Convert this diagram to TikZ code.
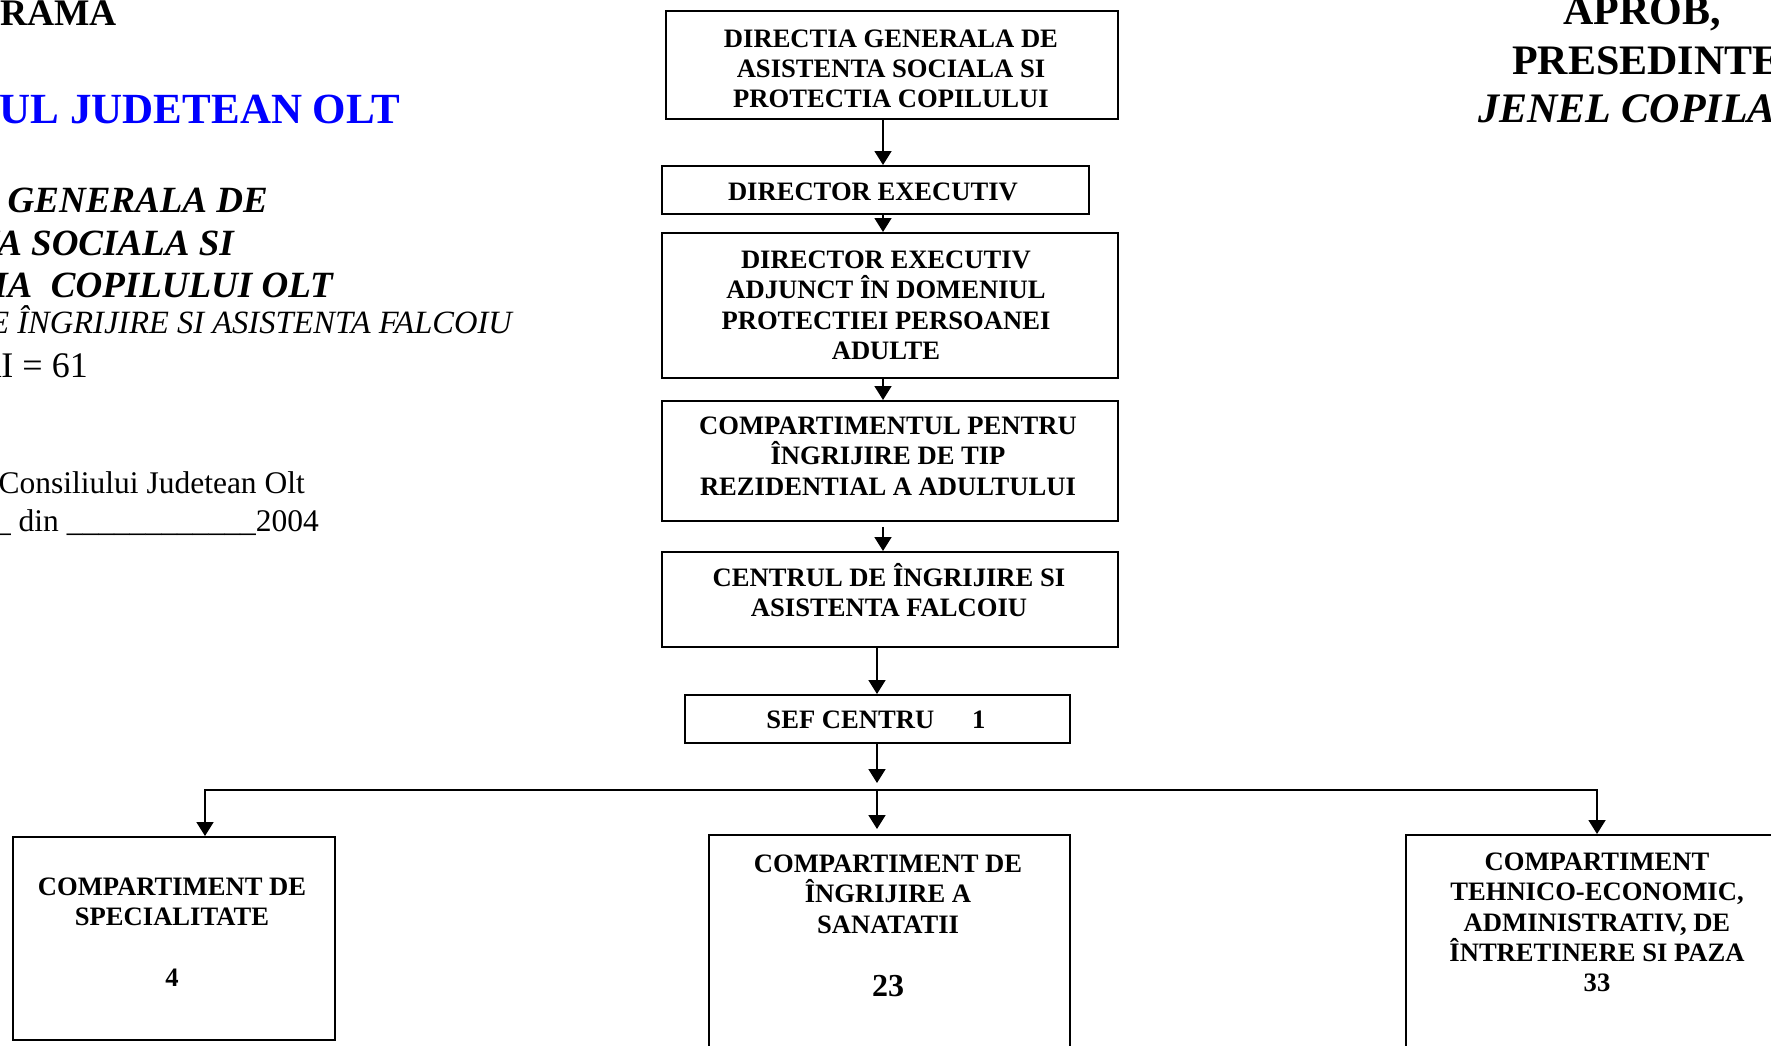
\documentclass[tikz,border=0pt]{standalone}
\usepackage{fontspec}
\setmainfont{Liberation Serif}
\usetikzlibrary{arrows.meta}
\definecolor{titleblue}{RGB}{0,0,255}
\newcommand{\mystrut}{\rule{0pt}{25pt}}
\begin{document}
\begin{tikzpicture}[x=1pt,y=-1pt,
  boxshape/.style={draw, line width=1.8pt, rectangle, inner sep=0pt, anchor=north west},
  boxtext/.style={inner sep=0pt, anchor=north, align=center, font=\bfseries\fontsize{26.6pt}{30.4pt}\selectfont},
  conn/.style={line width=1.8pt, -{Triangle[length=14pt,width=17pt]}},
  lefttxt/.style={inner sep=0pt, anchor=base east},
  righttxt/.style={inner sep=0pt, anchor=base west, font=\bfseries\fontsize{42pt}{48pt}\selectfont},
]
\useasboundingbox (0,0) rectangle (1771,1046);
\clip (0,0) rectangle (1771,1046);

% ---------- left header ----------
\node[lefttxt, font=\bfseries\fontsize{37.5pt}{40pt}\selectfont] (h1) at (117,26) {ORGANIGRAMA};
\node[lefttxt, text=titleblue, font=\bfseries\fontsize{43pt}{48pt}\selectfont] (h2) at (400,124) {CONSILIUL JUDETEAN OLT};
\node[lefttxt, font=\bfseries\itshape\fontsize{37pt}{42pt}\selectfont] (h3) at (268,212) {DIRECTIA GENERALA DE};
\node[lefttxt, font=\bfseries\itshape\fontsize{37pt}{42pt}\selectfont] (h4) at (234,255) {ASISTENTA SOCIALA SI};
\node[lefttxt, font=\bfseries\itshape\fontsize{37pt}{42pt}\selectfont] (h5) at (333,297) {PROTECTIA\ \ COPILULUI OLT};
\node[lefttxt, font=\itshape\fontsize{32.5pt}{36pt}\selectfont] (h6) at (512,333) {CENTRUL DE ÎNGRIJIRE SI ASISTENTA FALCOIU};
\node[lefttxt, font=\fontsize{36pt}{40pt}\selectfont] (h7) at (88,377) {TOTAL POSTURI = 61};
\node[lefttxt, font=\fontsize{31.5pt}{36pt}\selectfont] (h8) at (305,493) {Anexa la Hotararea Consiliului Judetean Olt};
\node[lefttxt, font=\fontsize{31.5pt}{36pt}\selectfont] (h9) at (319,531) {nr. \_\_\_\_ din \_\_\_\_\_\_\_\_\_\_\_\_2004};

% ---------- right header ----------
\node[inner sep=0pt, anchor=base, font=\bfseries\fontsize{42pt}{48pt}\selectfont] (r1) at (1642,25) {APROB,};
\node[righttxt] (r2) at (1512,75) {PRESEDINTE};
\node[righttxt, font=\bfseries\itshape\fontsize{42pt}{48pt}\selectfont] (r3) at (1478,123) {JENEL COPILAU};

% ---------- boxes ----------
\node[boxshape, minimum width=452pt, minimum height=108pt] (b1) at (665,10) {};
\node[boxshape, minimum width=427pt, minimum height=48pt] (b2) at (661,165) {};
\node[boxshape, minimum width=456pt, minimum height=145pt] (b3) at (661,232) {};
\node[boxshape, minimum width=456pt, minimum height=120pt] (b4) at (661,400) {};
\node[boxshape, minimum width=456pt, minimum height=95pt] (b5) at (661,551) {};
\node[boxshape, minimum width=385pt, minimum height=48pt] (b6) at (684,694) {};
\node[boxshape, minimum width=322pt, minimum height=203pt] (b7) at (12,836) {};
\node[boxshape, minimum width=361pt, minimum height=260pt] (b8) at (708,834) {};
\node[boxshape, minimum width=390pt, minimum height=260pt] (b9) at (1405,834) {};

% ---------- box texts ----------
\node[boxtext] (t1) at (891,22) {\mystrut DIRECTIA GENERALA DE\\ASISTENTA SOCIALA SI\\PROTECTIA COPILULUI};
\node[boxtext] (t2) at (873,175) {\mystrut DIRECTOR EXECUTIV};
\node[boxtext] (t3) at (886,243) {\mystrut DIRECTOR EXECUTIV\\ADJUNCT ÎN DOMENIUL\\PROTECTIEI PERSOANEI\\ADULTE};
\node[boxtext] (t4) at (888,409) {\mystrut COMPARTIMENTUL PENTRU\\ÎNGRIJIRE DE TIP\\REZIDENTIAL A ADULTULUI};
\node[boxtext] (t5) at (889,561) {\mystrut CENTRUL DE ÎNGRIJIRE SI\\ASISTENTA FALCOIU};
\node[boxtext] (t6) at (876,703) {\mystrut SEF CENTRU\hspace{38pt}1};
\node[boxtext] (t7) at (172,870) {\mystrut COMPARTIMENT DE\\SPECIALITATE\\\mbox{}\\4};
\node[boxtext] (t8) at (888,847) {\mystrut COMPARTIMENT DE\\ÎNGRIJIRE A\\SANATATII\\\mbox{}\\[3pt]{\fontsize{32pt}{34pt}\selectfont 23}};
\node[boxtext] (t9) at (1597,845) {\mystrut COMPARTIMENT\\TEHNICO-ECONOMIC,\\ADMINISTRATIV, DE\\ÎNTRETINERE SI PAZA\\33};

% ---------- connectors ----------
\coordinate (xa) at (883,0);
\coordinate (xb) at (877,0);
\coordinate (jl) at (205,790);
\coordinate (jc) at (877,790);
\coordinate (jr) at (1597,790);

\draw[conn] (b1.south -| xa) -- (b2.north -| xa);
\draw[conn] (b2.south -| xa) -- (b3.north -| xa);
\draw[conn] (b3.south -| xa) -- (b4.north -| xa);
\draw[conn, shorten <=5pt] (b4.south -| xa) -- (b5.north -| xa);
\draw[conn] (b5.south -| xb) -- (b6.north -| xb);
\draw[conn, shorten >=7pt] (b6.south -| xb) -- (jc);
\draw[conn] (jc) -| (b7.north -| jl);
\draw[conn] (jc) -| (b9.north -| jr);
\draw[conn, shorten >=5pt] (jc) -- (b8.north -| jc);
\end{tikzpicture}
\end{document}
